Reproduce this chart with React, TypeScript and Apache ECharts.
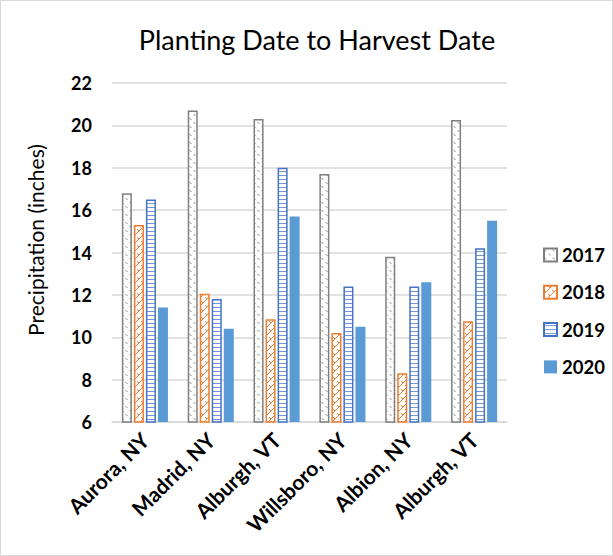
import React, { useEffect, useRef } from "react";
import * as echarts from "echarts";

const categories = ["Aurora, NY", "Madrid, NY", "Alburgh, VT", "Willsboro, NY", "Albion, NY", "Alburgh, VT "];
const seriesNames = ["2017", "2018", "2019", "2020"];
const values2017 = [16.8, 20.7, 20.3, 17.7, 13.8, 20.25];
const values2018 = [15.3, 12.05, 10.85, 10.2, 8.3, 10.75];
const values2019 = [16.5, 11.8, 18.0, 12.4, 12.4, 14.2];
const values2020 = [11.4, 10.4, 15.7, 10.5, 12.6, 15.5];
const yTicks = { min: 6, max: 22, interval: 2 };
const yAxisTitle = "Precipitation (inches)";

function makePattern(kind: string): HTMLCanvasElement {
  const c = document.createElement("canvas");
  const ctx = c.getContext("2d")!;
  if (kind === "2017") {
    c.width = 8; c.height = 8;
    ctx.fillStyle = "#ffffff"; ctx.fillRect(0, 0, 8, 8);
    ctx.strokeStyle = "#8c8c8c"; ctx.lineWidth = 1;
    ctx.beginPath();
    ctx.moveTo(0.5, 1); ctx.lineTo(2.5, 3);
    ctx.moveTo(4.5, 5); ctx.lineTo(6.5, 7);
    ctx.stroke();
  } else if (kind === "2018") {
    c.width = 8; c.height = 8;
    ctx.fillStyle = "#ffffff"; ctx.fillRect(0, 0, 8, 8);
    ctx.strokeStyle = "#ED7D31"; ctx.lineWidth = 1;
    ctx.beginPath();
    ctx.moveTo(0, 8); ctx.lineTo(8, 0);
    ctx.moveTo(0, 4); ctx.lineTo(2, 6);
    ctx.moveTo(4, 0); ctx.lineTo(6, 2);
    ctx.stroke();
  } else {
    c.width = 8; c.height = 4;
    ctx.fillStyle = "#ffffff"; ctx.fillRect(0, 0, 8, 4);
    ctx.strokeStyle = "rgba(68,114,196,0.75)"; ctx.lineWidth = 1;
    ctx.beginPath();
    ctx.moveTo(0, 2.5); ctx.lineTo(8, 2.5);
    ctx.stroke();
  }
  return c;
}

export default function App() {
  const ref = useRef<HTMLDivElement>(null);
  useEffect(() => {
    if (!ref.current) return;
    const chart = echarts.init(ref.current, undefined, { renderer: "svg" });
    const pat = (k: string, w: number, h: number) => ({
      image: makePattern(k) as any,
      repeat: "repeat",
      imageWidth: w,
      imageHeight: h,
    });
    const font = "Lato, 'Open Sans', sans-serif";
    chart.setOption({
      animation: false,
      backgroundColor: "#ffffff",
      textStyle: { fontFamily: font },
      title: {
        text: "Planting Date to Harvest Date",
        left: 311,
        textAlign: "center",
        top: 20,
        textStyle: { fontFamily: font, fontSize: 27, fontWeight: "normal", color: "#000" },
      },
      graphic: [
        {
          type: "text",
          x: 34,
          y: 239,
          rotation: Math.PI / 2,
          style: {
            text: yAxisTitle,
            fontFamily: font,
            fontSize: 21,
            fill: "#000",
            align: "center",
            verticalAlign: "middle",
          },
        },
      ],
      legend: {
        orient: "vertical",
        left: 537,
        top: 238,
        itemWidth: 13,
        itemHeight: 13,
        itemGap: 15.3,
        icon: "rect",
        textStyle: { fontFamily: font, fontSize: 18.5, lineHeight: 22, fontWeight: "bold", color: "#000" },
        data: seriesNames,
      },
      grid: { left: 111, right: 105, top: 82, bottom: 133 },
      xAxis: {
        type: "category",
        data: categories,
        axisLine: { lineStyle: { color: "#d9d9d9", width: 1.5 } },
        axisTick: { show: false },
        axisLabel: {
          rotate: 45,
          interval: 0,
          margin: 14,
          fontFamily: font,
          fontSize: 21,
          fontWeight: "bold",
          color: "#000",
          formatter: (v: string) => v.trim(),
        },
      },
      yAxis: {
        type: "value",
        min: yTicks.min,
        max: yTicks.max,
        interval: yTicks.interval,
        axisLine: { show: false },
        axisTick: { show: false },
        splitLine: { lineStyle: { color: "#d9d9d9", width: 1.5 } },
        axisLabel: { fontFamily: font, fontSize: 18, fontWeight: "bold", color: "#000", margin: 20 },
      },
      series: [
        {
          name: "2017", type: "bar", data: values2017, barGap: "20%", barCategoryGap: "30%",
          itemStyle: { color: pat("2017", 8, 8), borderColor: "#7f7f7f", borderWidth: 1.5 },
        },
        {
          name: "2018", type: "bar", data: values2018,
          itemStyle: { color: pat("2018", 8, 8), borderColor: "#ED7D31", borderWidth: 1.5 },
        },
        {
          name: "2019", type: "bar", data: values2019,
          itemStyle: { color: pat("2019", 8, 4), borderColor: "#4472C4", borderWidth: 1.5 },
        },
        {
          name: "2020", type: "bar", data: values2020,
          itemStyle: { color: "#5B9BD5" },
        },
      ],
    });
    return () => chart.dispose();
  }, []);
  return (
    <div
      style={{
        position: "fixed",
        left: 0,
        top: 0,
        width: 613,
        height: 556,
        boxSizing: "border-box",
        border: "1px solid #d9d9d9",
        background: "#fff",
      }}
    >
      <div ref={ref} style={{ width: 611, height: 554 }} />
    </div>
  );
}
